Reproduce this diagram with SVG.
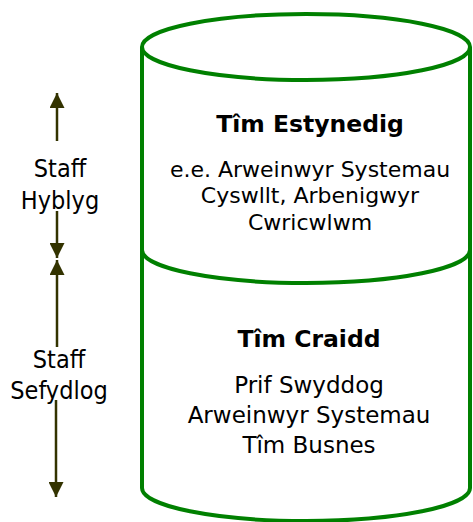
<svg xmlns="http://www.w3.org/2000/svg" width="473" height="522" viewBox="0 0 473 522">
<defs>
<style>
.cyl{fill:none;stroke:#008000;stroke-width:4}
.t{font-family:"DejaVu Sans",sans-serif;fill:#000;text-anchor:middle}
.h{font-weight:bold;font-size:23.5px}
.b{font-size:22px}
.c{font-size:23px}
.l{font-family:"DejaVu Sans Condensed","DejaVu Sans",sans-serif;font-size:25px}
.arr{stroke:#333300;stroke-width:2.5;fill:none}
</style>
<marker id="ah" viewBox="0 0 10 10" refX="10" refY="5" markerWidth="6" markerHeight="6" orient="auto" markerUnits="strokeWidth">
<path d="M0,0 L10,5 L0,10 Z" fill="#333300"/>
</marker>
</defs>
<rect width="473" height="522" fill="#fff"/>
<g id="cylinder">
<path class="cyl" d="M142,47 L142,488 A164,33 0 0 0 470,488 L470,47"/>
<ellipse class="cyl" cx="306" cy="47" rx="164" ry="33"/>
<path class="cyl" d="M142,250 A164,33 0 0 0 470,250"/>
</g>
<g id="tim-estynedig">
<text class="t h" x="310" y="132">Tîm Estynedig</text>
<text class="t b" x="310" y="177">e.e. Arweinwyr Systemau</text>
<text class="t b" x="310" y="203">Cyswllt, Arbenigwyr</text>
<text class="t b" x="310" y="230">Cwricwlwm</text>
</g>
<g id="tim-craidd">
<text class="t h" x="309" y="347">Tîm Craidd</text>
<text class="t c" x="309" y="393">Prif Swyddog</text>
<text class="t c" x="309" y="423">Arweinwyr Systemau</text>
<text class="t c" x="309" y="453">Tîm Busnes</text>
</g>
<g id="staff-hyblyg">
<text class="t l" x="60" y="177">Staff</text>
<text class="t l" x="60" y="209">Hyblyg</text>
</g>
<g id="staff-sefydlog">
<text class="t l" x="59" y="368">Staff</text>
<text class="t l" x="59" y="399">Sefydlog</text>
</g>
<g id="connectors">
<line class="arr" x1="57" y1="141" x2="57" y2="93" marker-end="url(#ah)"/>
<line class="arr" x1="57" y1="211" x2="57" y2="258" marker-end="url(#ah)"/>
<line class="arr" x1="57" y1="347" x2="57" y2="260" marker-end="url(#ah)"/>
<line class="arr" x1="56" y1="400" x2="56" y2="497" marker-end="url(#ah)"/>
</g>
</svg>
